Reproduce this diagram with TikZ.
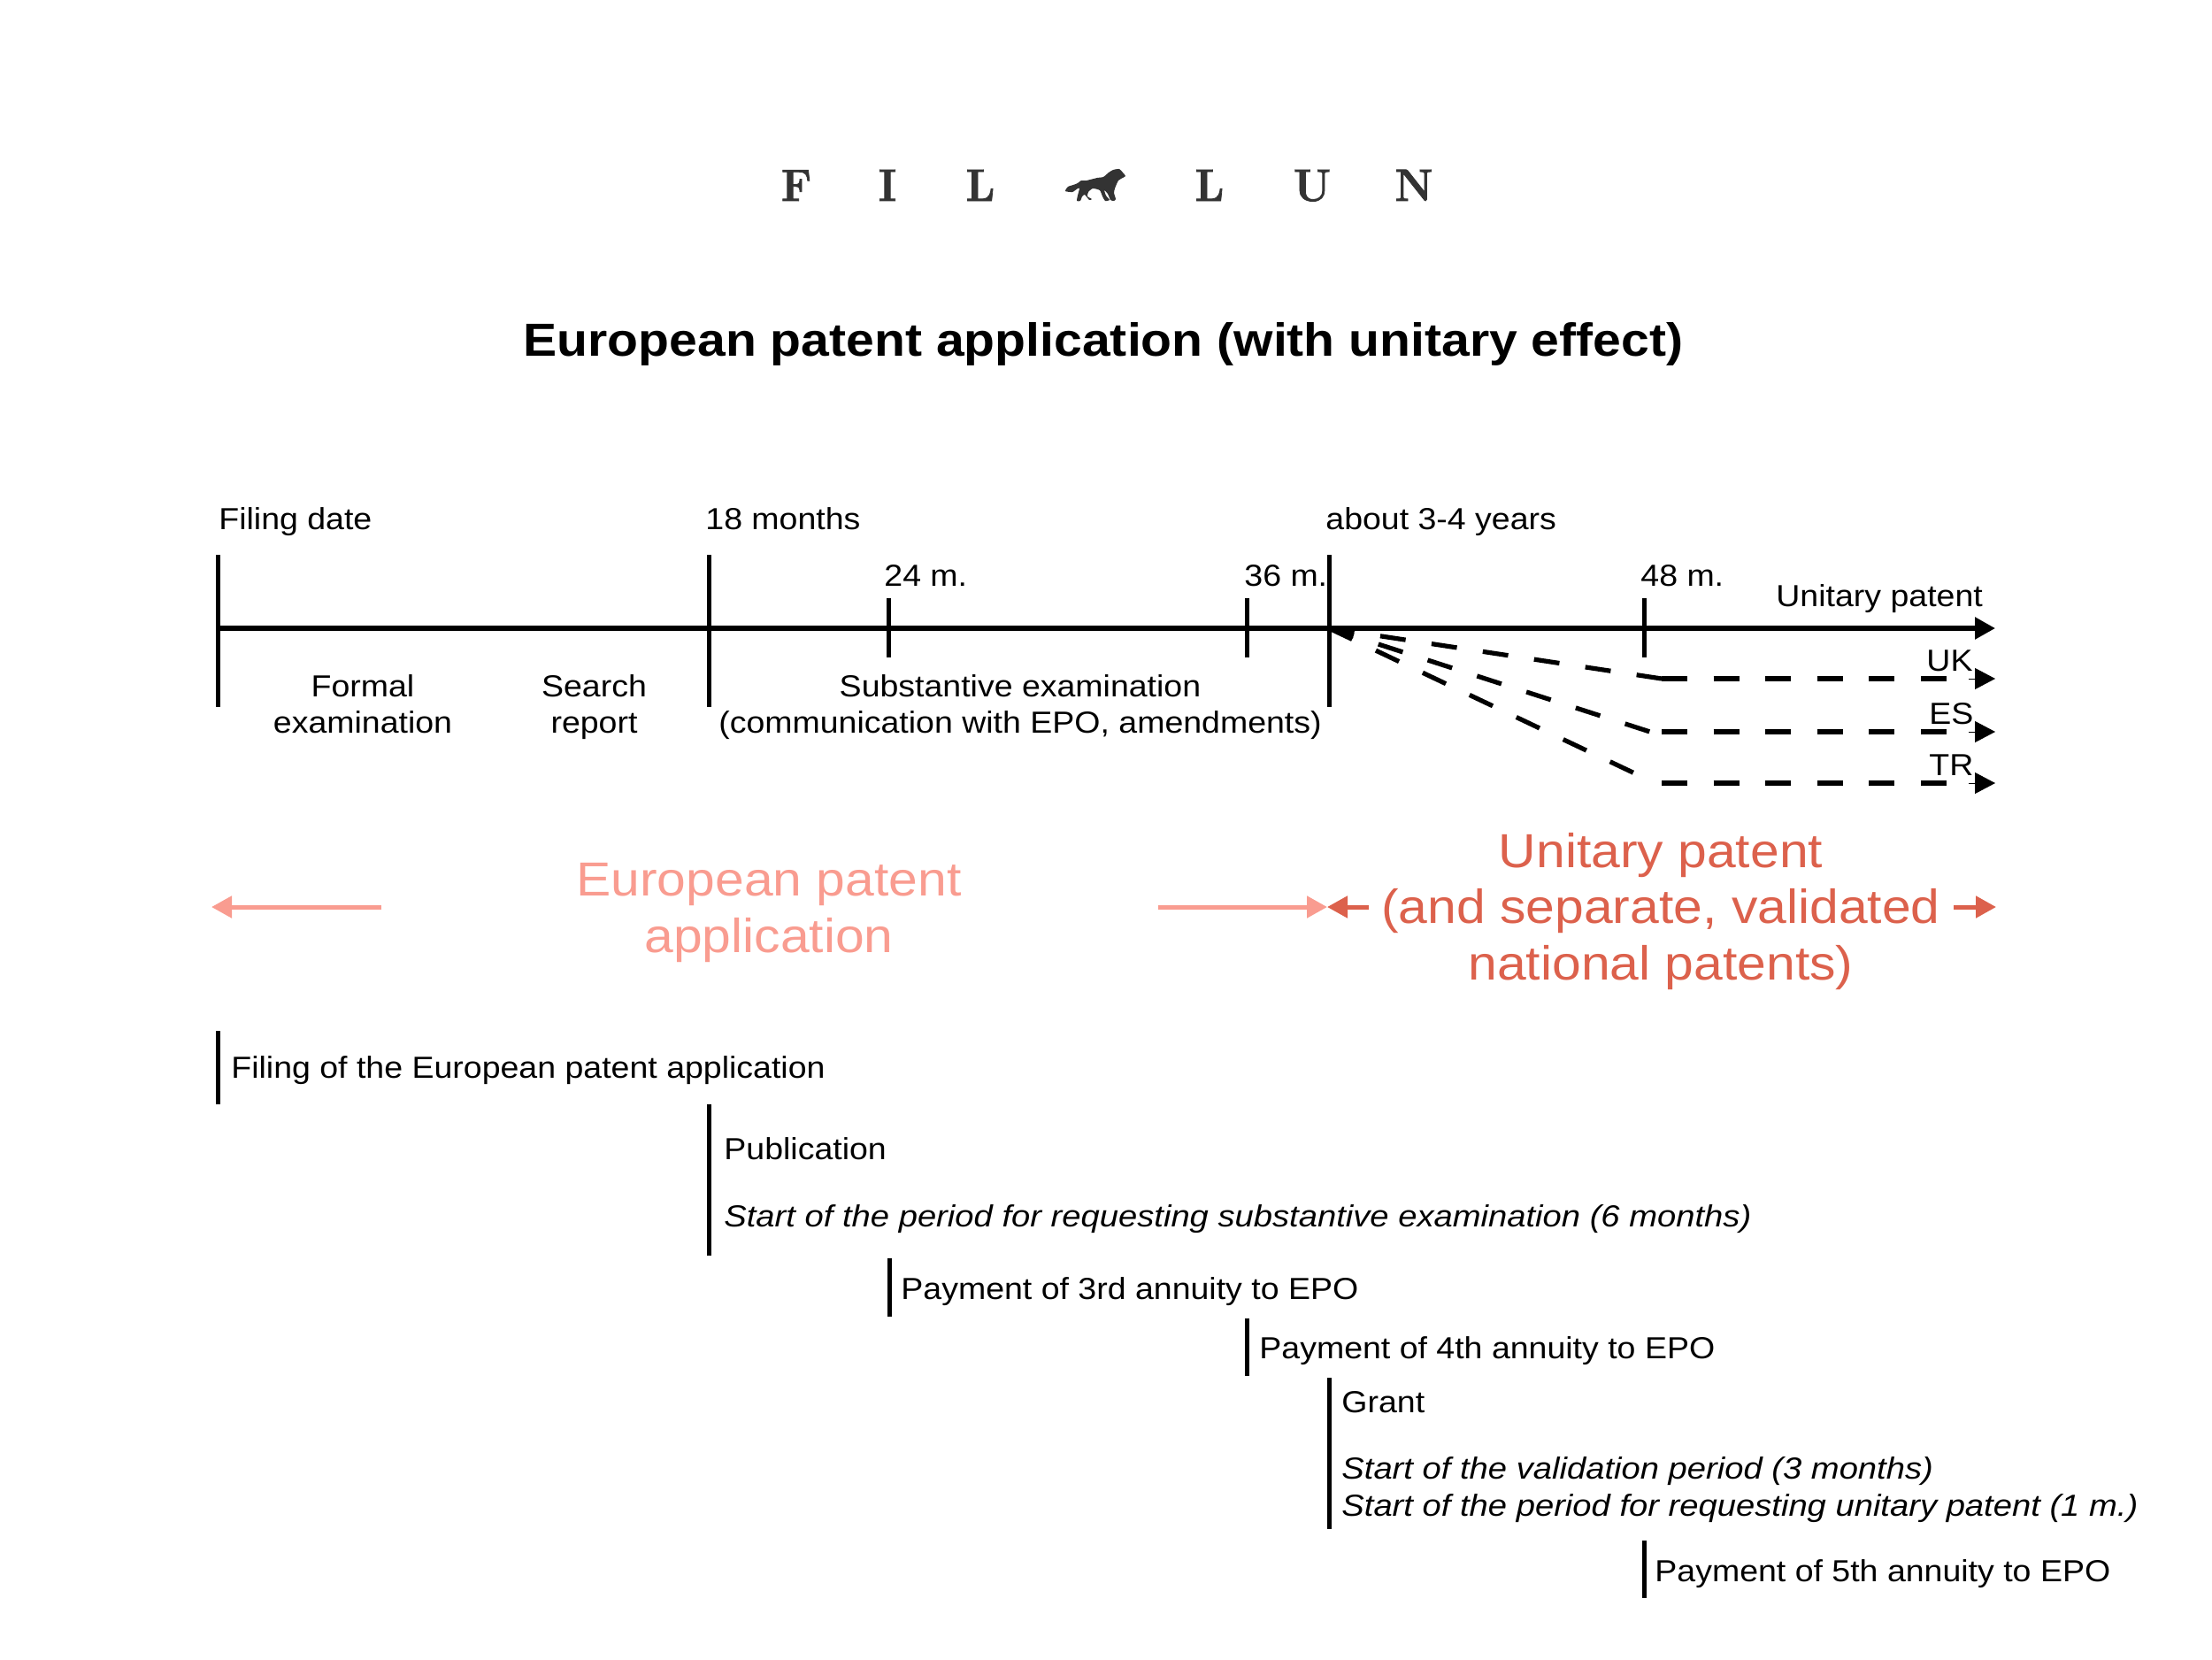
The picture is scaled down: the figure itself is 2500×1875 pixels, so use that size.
\documentclass[tikz,border=0pt]{standalone}
\usepackage{fontspec}
\usetikzlibrary{arrows.meta}
\newfontfamily\bodyfont{Liberation Sans}[FakeStretch=1.09,ItalicFeatures={FakeStretch=1.11}]
\newfontfamily\logofont{Latin Modern Roman}[FakeStretch=0.95,BoldFeatures={FakeBold=1.5}]
\definecolor{pinkc}{HTML}{F99C90}
\definecolor{redc}{HTML}{DC614C}
\definecolor{logoc}{HTML}{333333}
\tikzset{
  txt/.style={inner sep=0pt,anchor=base west,font=\bodyfont\fontsize{17.2}{20}\selectfont},
  ctr/.style={inner sep=0pt,anchor=base,font=\bodyfont\fontsize{17.2}{20}\selectfont},
  ital/.style={txt,font=\bodyfont\itshape\fontsize{17.2}{20}\selectfont},
  big/.style={inner sep=0pt,anchor=base,font=\bodyfont\fontsize{27}{32}\selectfont},
  logo/.style={inner sep=0pt,anchor=base,text=logoc,font=\logofont\bfseries\fontsize{25.6}{30}\selectfont},
  axisline/.style={line width=2.7pt},
  bar/.style={line width=2.5pt},
  dashline/.style={line width=2.6pt,dash pattern=on 14.5pt off 14.8pt},
  head/.style={-{Triangle[length=11.5pt,width=12pt]},line width=2.5pt},
}
\begin{document}
\begin{tikzpicture}[x=0.5pt,y=-0.5pt]
\useasboundingbox (0,0) rectangle (2500,1875);
% logo
\node[logo] (lF) at (900,227) {F};
\node[logo] (lI) at (1003,227) {I};
\node[logo] (lL) at (1108,227) {L};
\fill[logoc] plot[smooth cycle,tension=.35] coordinates {
 (1204,216) (1207,211) (1213,209) (1218,207) (1222,204) (1228,204) (1240,201) (1247,200) (1253,195) (1258,192) (1265,191) (1269,195) (1272,199) (1267,202) (1264,204) (1262,208) (1260,213) (1259,218) (1261,225) (1259,227) (1255,226) (1252,219) (1248,215) (1250,221) (1254,226) (1249,227) (1246,222) (1243,215) (1235,213) (1230,217) (1229,222) (1234,225) (1231,226) (1226,220) (1223,222) (1221,227) (1217,227) (1218,221) (1220,213) (1218,213) (1212,217)};
\node[logo] (lL2) at (1367,227) {L};
\node[logo] (lU) at (1483,227) {U};
\node[logo] (lN) at (1598,227) {N};
% title
\node[inner sep=0pt,anchor=base,font=\bodyfont\bfseries\fontsize{26.2}{30}\selectfont] (title) at (1247,402) {European patent application (with unitary effect)};
% top labels
\node[txt] (filing) at (247,598) {Filing date};
\node[txt] (m18) at (797,598) {18 months};
\node[txt] (y34) at (1498,598) {about 3-4 years};
\node[txt] (m24) at (999,662) {24 m.};
\node[txt] (m36) at (1406,662) {36 m.};
\node[txt] (m48) at (1854,662) {48 m.};
\node[txt] (unit) at (2007,685) {Unitary patent};
\node[txt] (uk) at (2177,758) {UK};
\node[txt] (es) at (2180,818) {ES};
\node[txt] (tr) at (2180,876) {TR};
\node[ctr] (f1) at (410,787) {Formal};
\node[ctr] (f2) at (410,828) {examination};
\node[ctr] (s1) at (671.5,787) {Search};
\node[ctr] (s2) at (671.5,828) {report};
\node[ctr] (e1) at (1153,787) {Substantive examination};
\node[ctr] (e2) at (1153,828) {(communication with EPO, amendments)};
% axis
\coordinate (ax0) at (246.5,710);
\coordinate (axV) at (1502,710);
\coordinate (axT) at (2255,710);
\draw[axisline,-{Triangle[length=11.5pt,width=12pt]}] (ax0) -- (axT);
\foreach \n/\x in {a/246.5,b/801.5,c/1502}{
  \coordinate (t\n) at (\x,627); \coordinate (u\n) at (\x,799);
  \draw[bar] (t\n) -- (u\n);
}
\foreach \n/\x in {d/1004,e/1409,f/1858}{
  \coordinate (t\n) at (\x,676); \coordinate (u\n) at (\x,743);
  \draw[bar] (t\n) -- (u\n);
}
% branches
\coordinate (dU) at (1878,767); \coordinate (dE) at (1871,829); \coordinate (dT) at (1856,878);
\draw[dashline] (axV) -- (dU);
\draw[dashline] (axV) -- (dE);
\draw[dashline] (axV) -- (dT);
\foreach \n/\y in {U/767,E/827,R/885}{
  \coordinate (h\n) at (1878,\y); \coordinate (i\n) at (2201,\y);
  \coordinate (j\n) at (2225,\y); \coordinate (k\n) at (2255,\y);
  \draw[dashline] (h\n) -- (i\n);
  \draw[-{Triangle[length=11.5pt,width=12pt]},line width=.5pt] (j\n) -- (k\n);
}
% spans
\coordinate (pa) at (239,1025); \coordinate (pb) at (431,1025);
\coordinate (pc) at (1309,1025); \coordinate (pd) at (1500,1025);
\coordinate (ra) at (1500,1025); \coordinate (rb) at (1547,1025);
\coordinate (rc) at (2208,1025); \coordinate (rd) at (2256,1025);
\draw[head,pinkc] (pb) -- (pa);
\draw[head,pinkc] (pc) -- (pd);
\draw[head,redc] (rb) -- (ra);
\draw[head,redc] (rc) -- (rd);
\node[big,text=pinkc] (ep1) at (869,1012) {European patent};
\node[big,text=pinkc] (ep2) at (869,1076) {application};
\node[big,text=redc] (up1) at (1877,980) {Unitary patent};
\node[big,text=redc] (up2) at (1877,1043) {(and separate, validated};
\node[big,text=redc] (up3) at (1877,1107) {national patents)};
% lower
\foreach \n/\x/\a/\b in {A/246.5/1165/1248,B/801.5/1248/1419,C/1005/1422/1488,D/1409/1490/1555,E/1502/1557/1728,F/1858/1741/1806}{
  \coordinate (p\n) at (\x,\a); \coordinate (q\n) at (\x,\b);
  \draw[bar] (p\n) -- (q\n);
}
\node[txt] (n1) at (261,1218) {Filing of the European patent application};
\node[txt] (n2) at (818,1310.5) {Publication};
\node[ital] (n3) at (818,1386.5) {Start of the period for requesting substantive examination (6 months)};
\node[txt] (n4) at (1018,1468) {Payment of 3rd annuity to EPO};
\node[txt] (n5) at (1423,1535) {Payment of 4th annuity to EPO};
\node[txt] (n6) at (1516,1596) {Grant};
\node[ital] (n7) at (1516,1671.5) {Start of the validation period (3 months)};
\node[ital] (n8) at (1516,1713.5) {Start of the period for requesting unitary patent (1 m.)};
\node[txt] (n9) at (1870,1787) {Payment of 5th annuity to EPO};
\end{tikzpicture}
\end{document}
